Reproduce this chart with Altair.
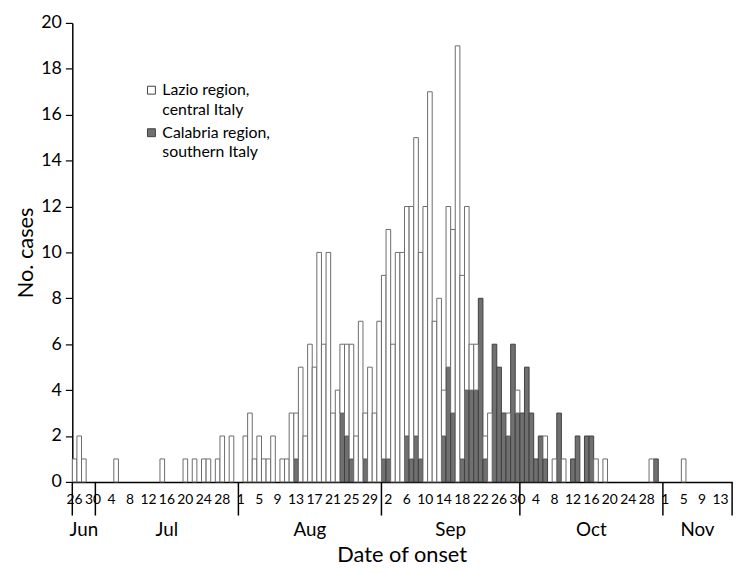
import altair as alt
import pandas as pd
from datetime import date

YEAR = 2017

# ---- data (cases by date of onset) ----
onset_dates = [
    "06-26", "06-27", "06-28", "07-05", "07-15", "07-20", "07-22", "07-24", "07-25",
    "07-27", "07-28", "07-30",
    "08-02", "08-03", "08-04", "08-05", "08-06", "08-07", "08-08", "08-10", "08-11",
    "08-12", "08-13", "08-14", "08-15", "08-16", "08-17", "08-18", "08-19", "08-20",
    "08-21", "08-22", "08-23", "08-24", "08-25", "08-26", "08-27", "08-28", "08-29",
    "08-30", "08-31",
    "09-01", "09-02", "09-03", "09-04", "09-05", "09-06", "09-07", "09-08", "09-09",
    "09-10", "09-11", "09-12", "09-13", "09-14", "09-15", "09-16", "09-17", "09-18",
    "09-19", "09-20", "09-21", "09-22", "09-23", "09-24", "09-25", "09-26", "09-27",
    "09-28", "09-29", "09-30",
    "10-01", "10-02", "10-03", "10-04", "10-05", "10-06", "10-08", "10-09", "10-10",
    "10-12", "10-13", "10-15", "10-16", "10-17", "10-19", "10-29", "10-30",
    "11-05",
]
lazio_cases = [
    1, 2, 1, 1, 1, 1, 1, 1, 1,
    1, 2, 2,
    2, 3, 1, 2, 1, 1, 2, 1, 1,
    3, 2, 5, 2, 6, 5, 10, 6, 10,
    3, 4, 3, 4, 5, 2, 7, 2, 5,
    3, 7,
    8, 10, 6, 10, 10, 10, 11, 13, 9,
    12, 17, 7, 8, 2, 7, 8, 19, 8,
    8, 2, 2, 0, 1, 3, 0, 0, 0,
    1, 0, 1,
    0, 0, 0, 0, 0, 1, 1, 0, 1,
    0, 0, 0, 0, 1, 1, 1, 0,
    1,
]
calabria_cases = [
    0, 0, 0, 0, 0, 0, 0, 0, 0,
    0, 0, 0,
    0, 0, 0, 0, 0, 0, 0, 0, 0,
    0, 1, 0, 0, 0, 0, 0, 0, 0,
    0, 0, 3, 2, 1, 0, 0, 1, 0,
    0, 0,
    1, 1, 0, 0, 0, 2, 1, 2, 1,
    0, 0, 0, 0, 2, 5, 3, 0, 1,
    4, 4, 4, 8, 1, 0, 6, 5, 3,
    2, 6, 3,
    3, 5, 3, 1, 2, 1, 0, 3, 0,
    1, 2, 2, 2, 0, 0, 0, 1,
    0,
]

legend_lines = [["Lazio region,", "central Italy"], ["Calabria region,", "southern Italy"]]

axis_start = "06-26"
axis_end = "11-16"          # exclusive end of the time axis
months = ["Jun", "Jul", "Aug", "Sep", "Oct", "Nov"]
month_starts = ["06-26", "07-01", "08-01", "09-01", "10-01", "11-01"]
tick_labels = ["26", "30", "4", "8", "12", "16", "20", "24", "28",
               "1", "5", "9", "13", "17", "21", "25", "29",
               "2", "6", "10", "14", "18", "22", "26", "30",
               "4", "8", "12", "16", "20", "24", "28",
               "1", "5", "9", "13"]
tick_step_days = 4
y_ticks = list(range(0, 21, 2))

# ---- helpers ----
def to_date(s):
    m, d = s.split("-")
    return date(YEAR, int(m), int(d))

t0 = to_date(axis_start)
n_days = (to_date(axis_end) - t0).days

def day_index(s):
    return (to_date(s) - t0).days

df = pd.DataFrame({"date": onset_dates, "lazio": lazio_cases, "calabria": calabria_cases})
df["idx"] = df["date"].map(day_index)
df["idx2"] = df["idx"] + 1
df["base"] = 0
df["total"] = df["lazio"] + df["calabria"]
df_cal = df[df["calabria"] > 0]
df_laz = df[df["lazio"] > 0]

bounds = [day_index(s) for s in month_starts] + [n_days]
sep_df = pd.DataFrame({"pos": bounds})
month_df = pd.DataFrame({
    "month": months,
    "mid": [(bounds[i] + bounds[i + 1]) / 2 for i in range(len(months))],
})
tick_df = pd.DataFrame({
    "label": tick_labels,
    "pos": [k * tick_step_days + 0.5 for k in range(len(tick_labels))],
})

FONT = "Lato"
GRAY = "#707070"
W, H = 667, 464

x_scale = alt.Scale(domain=[0, n_days], nice=False, zero=False)
y_scale = alt.Scale(domain=[0, 20], nice=False)

x_axis = alt.Axis(labels=False, ticks=False, title=None, grid=False,
                  domainColor="black", domainWidth=1.5)
y_axis = alt.Axis(values=y_ticks, title="No. cases", grid=False,
                  domainColor="black", domainWidth=1.5, tickColor="black",
                  tickWidth=1.2, tickSize=7, labelPadding=4, labelFontSize=18,
                  labelColor="black", labelFont=FONT, titleFont=FONT,
                  titleFontSize=22, titleFontWeight="normal", titleColor="black",
                  titlePadding=3)

cal_bars = alt.Chart(df_cal).mark_rect(fill=GRAY, stroke="#404040", strokeWidth=1).encode(
    x=alt.X("idx:Q", scale=x_scale, axis=x_axis),
    x2="idx2:Q",
    y=alt.Y("base:Q", scale=y_scale, axis=y_axis),
    y2="calabria:Q",
)
laz_bars = alt.Chart(df_laz).mark_rect(fill="white", stroke="#6b6b6b", strokeWidth=1).encode(
    x=alt.X("idx:Q", scale=x_scale),
    x2="idx2:Q",
    y=alt.Y("calabria:Q", scale=y_scale),
    y2="total:Q",
)

seps = alt.Chart(sep_df).mark_rule(color="black", strokeWidth=1.5).encode(
    x=alt.X("pos:Q", scale=x_scale),
    y=alt.value(H),
    y2=alt.value(H + 34),
)
day_text = alt.Chart(tick_df).mark_text(font=FONT, fontSize=14, color="black",
                                        baseline="middle").encode(
    x=alt.X("pos:Q", scale=x_scale),
    y=alt.value(H + 18),
    text="label:N",
)
month_text = alt.Chart(month_df).mark_text(font=FONT, fontSize=19, color="black",
                                           baseline="middle").encode(
    x=alt.X("mid:Q", scale=x_scale),
    y=alt.value(H + 49),
    text="month:N",
)
x_title = alt.Chart(month_df.head(1)).mark_text(font=FONT, fontSize=22, color="black",
                                                baseline="middle").encode(
    x=alt.value(W / 2),
    y=alt.value(H + 74),
    text=alt.value("Date of onset"),
)

one = pd.DataFrame({"k": [0]})
leg_sq1 = alt.Chart(one).mark_square(size=64, fill="white", stroke="#404040",
                                     strokeWidth=1, opacity=1).encode(
    x=alt.value(80), y=alt.value(68))
leg_sq2 = alt.Chart(one).mark_square(size=64, fill=GRAY, stroke="#404040",
                                     strokeWidth=1, opacity=1).encode(
    x=alt.value(80), y=alt.value(111))

def leg_text(txt, ypix):
    return alt.Chart(one).mark_text(font=FONT, fontSize=16, color="black",
                                    align="left", baseline="middle").encode(
        x=alt.value(91), y=alt.value(ypix), text=alt.value(txt))

leg_texts = [
    leg_text(legend_lines[0][0], 68),
    leg_text(legend_lines[0][1], 88),
    leg_text(legend_lines[1][0], 111),
    leg_text(legend_lines[1][1], 131),
]

chart = alt.layer(
    cal_bars, laz_bars, seps, day_text, month_text, x_title,
    leg_sq1, leg_sq2, *leg_texts,
).properties(
    width=W, height=H,
    autosize=alt.AutoSizeParams(type="none"),
    padding={"left": 65, "top": 12, "right": 10, "bottom": 89},
    background="white",
).configure_view(stroke=None)

chart.save("out.html", embed_options={"renderer": "svg", "actions": False})
